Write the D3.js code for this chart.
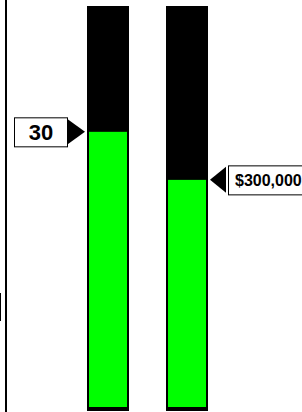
<!DOCTYPE html>
<html>
<head>
<meta charset="utf-8">
<script src="https://cdn.jsdelivr.net/npm/d3@7"></script>
<style>
  html, body { margin: 0; padding: 0; background: #fff; }
  svg { display: block; }
</style>
</head>
<body>
<svg id="chart" width="302" height="412"></svg>
<script>
// ---- data ----
const categories = ["Gauge A", "Gauge B"];
const values = [30, 300000];
const maxValues = [43.5, 527000];
const valueLabels = ["30", "$300,000"];
const labelSides = ["left", "right"];

const svg = d3.select("#chart");
const W = 302, H = 412;

// left axis-like rule
svg.append("line")
  .attr("x1", 6).attr("x2", 6).attr("y1", 0).attr("y2", H)
  .attr("stroke", "#000").attr("stroke-width", 2);
// clipped edge fragment at far left
svg.append("line")
  .attr("x1", 0.5).attr("x2", 0.5).attr("y1", 293).attr("y2", 321)
  .attr("stroke", "#000").attr("stroke-width", 1);

const x = d3.scaleBand().domain(categories).range([87, 208]).paddingInner(37 / 79).paddingOuter(0);

const gauges = categories.map((c, i) => ({
  cat: c, value: values[i], max: maxValues[i], label: valueLabels[i], side: labelSides[i],
  y: d3.scaleLinear().domain([0, maxValues[i]]).range([407, 8])
}));

const g = svg.selectAll("g.gauge").data(gauges).join("g").attr("class", "gauge");

// black tube
g.append("rect")
  .attr("x", d => x(d.cat))
  .attr("y", 6)
  .attr("width", x.bandwidth())
  .attr("height", 411 - 6)
  .attr("fill", "#000");

// green fill
g.append("rect")
  .attr("x", d => x(d.cat) + 2)
  .attr("y", d => d.y(d.value))
  .attr("width", x.bandwidth() - 4)
  .attr("height", d => d.y(0) - d.y(d.value))
  .attr("fill", "#00ff00");

// value markers
g.each(function(d) {
  const sel = d3.select(this);
  const yv = d.y(d.value);
  const halfH = 14.5;
  if (d.side === "left") {
    const apex = x(d.cat) - 2;
    const base = apex - 18;
    sel.append("path")
      .attr("d", `M${apex},${yv} L${base},${yv - 13} L${base},${yv + 13} Z`)
      .attr("fill", "#000");
    const bx1 = 14, bx2 = base;
    sel.append("rect")
      .attr("x", bx1 + 0.5).attr("y", yv - halfH + 0.5)
      .attr("width", bx2 - bx1).attr("height", halfH * 2)
      .attr("fill", "#fff").attr("stroke", "#000").attr("stroke-width", 1);
    sel.append("text")
      .attr("x", (bx1 + bx2) / 2 + 0.5).attr("y", yv + 8)
      .attr("text-anchor", "middle")
      .attr("font-family", "Liberation Sans, Arial, sans-serif")
      .attr("font-weight", "bold").attr("font-size", 22)
      .text(d.label);
  } else {
    const apex = x(d.cat) + x.bandwidth() + 2;
    const base = apex + 16;
    sel.append("path")
      .attr("d", `M${apex},${yv} L${base},${yv - 13} L${base},${yv + 13} Z`)
      .attr("fill", "#000");
    const bx1 = base + 2;
    sel.append("rect")
      .attr("x", bx1 + 0.5).attr("y", yv - halfH + 0.5)
      .attr("width", 90).attr("height", halfH * 2)
      .attr("fill", "#fff").attr("stroke", "#000").attr("stroke-width", 1);
    sel.append("text")
      .attr("x", bx1 + 7).attr("y", yv + 6)
      .attr("text-anchor", "start")
      .attr("font-family", "Liberation Sans, Arial, sans-serif")
      .attr("font-weight", "bold").attr("font-size", 16)
      .text(d.label);
  }
});
</script>
</body>
</html>
